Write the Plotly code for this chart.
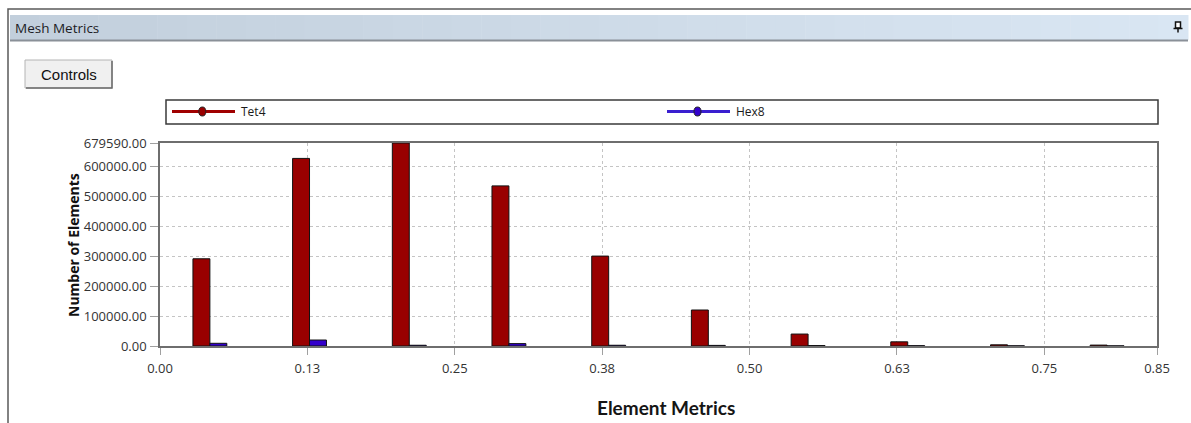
import plotly.graph_objects as go

# ---------------- data ----------------
bin_centers = [0.0423, 0.1268, 0.2114, 0.2959, 0.3805, 0.4650, 0.5496, 0.6341, 0.7187, 0.8032]
tet4_counts = [292000, 628000, 679590, 536000, 301000, 120500, 40000, 14000, 4000, 3000]
hex8_counts = [9000, 20000, 2500, 8000, 2500, 2000, 1500, 1000, 600, 400]

x_tickvals = [0.0, 0.125, 0.25, 0.375, 0.5, 0.625, 0.75, 0.8455]
x_ticktext = ["0.00", "0.13", "0.25", "0.38", "0.50", "0.63", "0.75", "0.85"]
y_tickvals = [0, 100000, 200000, 300000, 400000, 500000, 600000, 679590]
y_ticktext = ["%.2f" % v for v in y_tickvals]
x_max = 0.8455
y_max = 679590

series_names = ["Tet4", "Hex8"]
series_fill = ["#990000", "#3300CC"]
series_line = ["#A00000", "#3A1FD0"]

# ---------------- layout geometry ----------------
W, H = 1191, 423
L, R, T, B = 160, 34, 143, 77
PW, PH = W - L - R, H - T - B


def X(px):
    return (px - L) / PW


def Y(py):
    return (H - B - py) / PH


fig = go.Figure()
for name, vals, col in zip(series_names, [tet4_counts, hex8_counts], series_fill):
    fig.add_trace(go.Bar(
        x=bin_centers, y=vals, name=name,
        marker=dict(color=col, line=dict(color="#111111", width=1)),
        showlegend=False,
    ))

shapes = []
annotations = []

# outer frame
shapes.append(dict(type="path", xref="paper", yref="paper",
                   path="M %f %f L %f %f L %f %f" % (X(8), Y(423), X(8), Y(9), X(1191), Y(9)),
                   line=dict(color="#5a5a5a", width=1.5)))
# title bar gradient
n_seg = 40
x0, x1 = 10, 1188
c0 = (0xC2, 0xCF, 0xDC)
c1 = (0xD9, 0xE6, 0xF3)
for i in range(n_seg):
    t = i / (n_seg - 1)
    c = tuple(int(round(a + (b - a) * t)) for a, b in zip(c0, c1))
    sx0 = x0 + (x1 - x0) * i / n_seg
    sx1 = x0 + (x1 - x0) * (i + 1) / n_seg + 0.5
    shapes.append(dict(type="rect", xref="paper", yref="paper",
                       x0=X(sx0), x1=X(sx1), y0=Y(40), y1=Y(15),
                       fillcolor="rgb(%d,%d,%d)" % c, line=dict(width=0)))
shapes.append(dict(type="line", xref="paper", yref="paper",
                   x0=X(10), x1=X(1188), y0=Y(40.5), y1=Y(40.5),
                   line=dict(color="#8a9098", width=2)))
# pin icon
shapes.append(dict(type="rect", xref="paper", yref="paper",
                   x0=X(1175.5), x1=X(1180.5), y0=Y(28), y1=Y(22),
                   fillcolor="#ffffff", line=dict(color="#111111", width=1.5)))
shapes.append(dict(type="line", xref="paper", yref="paper",
                   x0=X(1173.5), x1=X(1182.5), y0=Y(28.5), y1=Y(28.5),
                   line=dict(color="#111111", width=1.5)))
shapes.append(dict(type="line", xref="paper", yref="paper",
                   x0=X(1178), x1=X(1178), y0=Y(28.5), y1=Y(32.5),
                   line=dict(color="#111111", width=1.5)))
# Controls button
shapes.append(dict(type="rect", xref="paper", yref="paper",
                   x0=X(25), x1=X(112), y0=Y(88), y1=Y(60),
                   fillcolor="#f0f0f0", line=dict(color="#b4b4b4", width=1)))
shapes.append(dict(type="path", xref="paper", yref="paper",
                   path="M %f %f L %f %f L %f %f" % (X(26), Y(88), X(112), Y(88), X(112), Y(61)),
                   line=dict(color="#6a6a6a", width=1.5)))
annotations.append(dict(xref="paper", yref="paper", x=X(68.5), y=Y(74), text="Controls",
                        showarrow=False, xanchor="center", yanchor="middle",
                        font=dict(family="Liberation Sans, Arial", size=15, color="#111111")))
# Title text
annotations.append(dict(xref="paper", yref="paper", x=X(13), y=Y(28), text="Mesh Metrics",
                        showarrow=False, xanchor="left", yanchor="middle",
                        font=dict(family="Open Sans", size=13.5, color="#1c1c24")))
# legend box
shapes.append(dict(type="rect", xref="paper", yref="paper",
                   x0=X(166), x1=X(1158), y0=Y(124), y1=Y(100),
                   fillcolor="#ffffff", line=dict(color="#3a3a3a", width=1.5)))
legend_x = [(172, 235, 202.3, 239), (667, 730, 697.5, 734)]
for (lx0, lx1, mx, tx), name, lc, fc in zip(legend_x, series_names, series_line, series_fill):
    shapes.append(dict(type="line", xref="paper", yref="paper",
                       x0=X(lx0), x1=X(lx1), y0=Y(111.5), y1=Y(111.5),
                       line=dict(color=lc, width=3)))
    shapes.append(dict(type="circle", xref="paper", yref="paper",
                       x0=X(mx - 3.5), x1=X(mx + 3.5), y0=Y(116), y1=Y(107),
                       fillcolor=fc, line=dict(color="#222222", width=1)))
    annotations.append(dict(xref="paper", yref="paper", x=X(tx), y=Y(111.5), text=name,
                            showarrow=False, xanchor="left", yanchor="middle",
                            font=dict(family="Open Sans", size=12, color="#1a1a1a")))
# axis titles
annotations.append(dict(xref="paper", yref="paper", x=X(73), y=Y(245), text="<b>Number of Elements</b>",
                        showarrow=False, xanchor="center", yanchor="middle", textangle=-90,
                        font=dict(family="Open Sans", size=14, color="#111111")))
annotations.append(dict(xref="paper", yref="paper", x=X(666), y=Y(407), text="<b>Element Metrics</b>",
                        showarrow=False, xanchor="center", yanchor="middle",
                        font=dict(family="Lato", size=19, color="#151515")))

tick_font = dict(family="Open Sans", size=13, color="#333333")
grid_dash = "3px,3px"
fig.update_layout(
    width=W, height=H,
    margin=dict(l=L, r=R, t=T, b=B, pad=0),
    paper_bgcolor="#ffffff", plot_bgcolor="#ffffff",
    barmode="group", bargap=0.66, bargroupgap=0,
    shapes=shapes, annotations=annotations,
    showlegend=False,
    xaxis=dict(range=[0, x_max], tickvals=x_tickvals, ticktext=x_ticktext,
               showgrid=True, gridcolor="#c4c4c4", griddash=grid_dash, gridwidth=1,
               zeroline=False, showline=True, mirror=True, linecolor="#6e6e6e", linewidth=1.5,
               ticks="outside", ticklen=7, tickcolor="#a0a0a0", tickwidth=1,
               ticklabelstandoff=3, tickfont=tick_font),
    yaxis=dict(range=[0, y_max], tickvals=y_tickvals, ticktext=y_ticktext,
               showgrid=True, gridcolor="#c4c4c4", griddash=grid_dash, gridwidth=1,
               zeroline=False, showline=True, mirror=True, linecolor="#6e6e6e", linewidth=1.5,
               ticks="outside", ticklen=8, tickcolor="#a0a0a0", tickwidth=1,
               ticklabelstandoff=1, tickfont=tick_font),
)

fig.write_html("out.html", post_script="document.body.style.margin='0';",
               config={"displayModeBar": False})
